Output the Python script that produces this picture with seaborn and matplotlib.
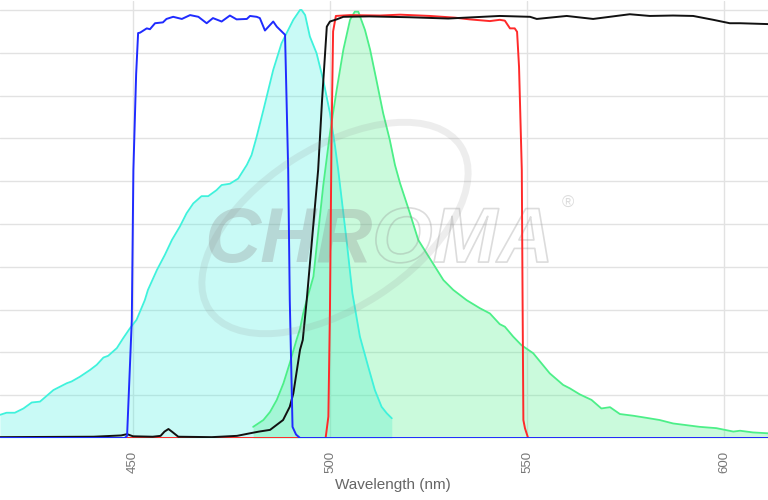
import numpy as np
import matplotlib
matplotlib.use("Agg")
import matplotlib.pyplot as plt
import matplotlib.patheffects as pe
from matplotlib.patches import Ellipse
from matplotlib.transforms import IdentityTransform
import seaborn as sns

# -----------------------
# DATOS
# -----------------------

# filtro de excitacion (azul)
blue_wl = [416.2, 447.9, 448.5, 449.7, 450.1, 450.8, 451.3, 451.8, 453.5, 454.3, 455.6, 457.6,
           458.5, 460.2, 462.4, 464.5, 466.6, 468.7, 470.3, 472.5, 474.6, 476.3, 478.9, 479.7,
           481.4, 482.2, 483.5, 485.6, 486.5, 488.6, 489.4, 489.8, 490.5, 491.4, 492.4, 611.2]
blue_t = [0, 0, 0.5, 27.6, 62.6, 85, 94.6, 94.7, 95.7, 95.5, 96.9, 97.1,
          97.9, 98.4, 97.9, 98.8, 98.4, 96.9, 98.1, 97.3, 98.7, 97.8, 97.9, 98.6,
          98.4, 98.1, 95.2, 97.3, 96.1, 94.2, 62.6, 32.2, 2.6, 0.8, 0, 0]

# filtro de emision (rojo)
red_wl = [416.2, 498.9, 499.6, 500.0, 500.4, 500.8, 501.5, 505.1, 512.7, 517.8, 525.4, 531.7,
          535.5, 540.6, 543.1, 544.4, 545.7, 546.9, 547.5, 548.0, 548.7, 548.9, 549.1, 549.5,
          550.3, 611.2]
red_t = [0, 0, 5, 30, 70, 95, 98.6, 98.8, 98.7, 98.9, 98.6, 98.2,
         97.8, 97.4, 97.7, 97.5, 95.7, 95.7, 94.9, 86.7, 62.6, 32.2, 4.2, 2.3,
         0, 0]

# dicroico (negro)
black_wl = [416.2, 440, 447, 448.5, 450, 455, 457, 458, 459, 460, 461.5, 470,
            476.4, 479.7, 482, 484.8, 488.1, 489.8, 490.7, 492.4, 493.1, 494.1, 497.0, 498.0,
            499.2, 500.0, 501.7, 503.4, 510, 520, 530, 543.1, 550.8, 552.5, 560.1, 566.8,
            576.1, 581.2, 587.1, 592.2, 597.3, 601.5, 604.1, 611.2]
black_t = [0.2, 0.3, 0.6, 0.9, 0.4, 0.3, 0.5, 1.5, 2.1, 1.4, 0.3, 0.2,
           0.5, 1.1, 1.5, 1.9, 4.2, 7.3, 10.4, 20.6, 22.9, 32.2, 62.6, 79.0,
           96.1, 97.3, 97.8, 98.4, 98.5, 98.3, 98.0, 98.6, 98.4, 97.9, 98.6, 97.9,
           99.0, 98.6, 98.7, 98.6, 97.7, 96.9, 96.9, 96.7]

# espectro de excitacion (cian)
cyan_wl = [416.2, 417.9, 420.0, 422.2, 424.3, 426.4, 429.8, 433.2, 434.4, 436.5, 439.1, 440.8,
           442.5, 443.7, 445.9, 447.5, 449.2, 450.9, 453.0, 453.8, 456.1, 458.1, 459.9, 461.9,
           463.6, 465.3, 467.4, 469.1, 471.2, 472.5, 474.6, 476.7, 478.9, 480.1, 481.4, 483.1,
           485.6, 487.7, 489.0, 490.7, 492.4, 492.8, 493.7, 494.9, 496.6, 498.3, 500.0, 501.3,
           502.1, 504.2, 505.7, 507.6, 509.7, 511.4, 513.1, 514.4, 515.7]
cyan_ex = [5.4, 5.9, 5.9, 6.9, 8.3, 8.5, 11.2, 12.8, 13.2, 14.3, 15.9, 17.1,
           18.8, 19.2, 21.0, 23.3, 25.6, 27.6, 32.2, 34.6, 39.3, 42.8, 46.3, 49.4,
           52.5, 54.8, 56.5, 56.5, 57.9, 59.1, 59.4, 60.6, 63.8, 66.1, 70.4, 76.6,
           86.0, 92.2, 94.6, 97.7, 100, 100, 98.8, 93.8, 89.9, 83.6, 75.9, 68.1,
           62.6, 46.3, 33.8, 23.7, 16.7, 11.2, 7.3, 5.8, 4.6]

# espectro de emision (verde)
green_wl = [480.5, 481.8, 483.1, 484.8, 486.5, 488.2, 489.8, 491.5, 492.4, 493.2, 494.1, 495.8,
            498.3, 500.0, 501.7, 503.4, 505.1, 506.3, 507.2, 508.9, 510.2, 511.8, 513.5, 515.2,
            516.5, 517.8, 520.3, 522.4, 524.5, 528.8, 531.3, 534.7, 538.1, 540.6, 543.1, 544.4,
            546.5, 548.6, 551.6, 555.8, 559.2, 560.9, 563.4, 566.4, 568.9, 571.1, 573.6, 577.0,
            580.4, 583.7, 587.1, 590.5, 593.9, 598.1, 602.4, 604.1, 607.4, 611.2]
green_em = [2.6, 3.4, 4.2, 6.1, 8.9, 12.8, 17.5, 22.9, 25.5, 29.1, 32.2, 37.7,
            59.0, 71.2, 81.3, 90.7, 97.7, 99.6, 99.6, 95.3, 90.7, 83.6, 75.9, 69.6,
            63.8, 59.5, 52.5, 46.3, 43.2, 36.9, 34.6, 32.2, 30.3, 29.1, 26.6, 26.0,
            23.7, 21.7, 19.8, 15.1, 12.4, 11.6, 10.2, 8.9, 6.9, 7.2, 5.6, 5.2,
            4.7, 4.2, 3.4, 3.0, 2.6, 2.3, 1.5, 1.7, 1.3, 1.1]

x_ticks = [450, 500, 550, 600]

# -----------------------
# GRAFICO
# -----------------------
sns.set_style("white")
plt.rcParams['font.family'] = ['Liberation Sans', 'DejaVu Sans']

fig = plt.figure(figsize=(7.68, 5), dpi=100)
ax = fig.add_axes([0, 62 / 500, 1, 436.6 / 500])

# rellenos de los espectros
ax.fill_between(cyan_wl, cyan_ex, 0, color='#40f0e0', alpha=0.28, lw=0, zorder=1)
ax.fill_between(green_wl, green_em, 0, color='#50f08c', alpha=0.30, lw=0, zorder=1)
sns.lineplot(x=cyan_wl, y=cyan_ex, ax=ax, color='#3ff2dc', lw=1.3, zorder=2)
sns.lineplot(x=green_wl, y=green_em, ax=ax, color='#4cef88', lw=1.3, zorder=2)

# marca de agua
wm = '#8c8c8c'
ax.text(510.7, 41.1, 'CHR', ha='right', va='baseline', fontsize=56, fontweight='bold',
        style='italic', color=wm, alpha=0.3, zorder=3)
ax.text(510.7, 41.1, 'OMA', ha='left', va='baseline', fontsize=56, fontweight='bold',
        style='italic', color=(1, 1, 1, 0), zorder=3,
        path_effects=[pe.Stroke(linewidth=1.2, foreground=(0.55, 0.55, 0.55, 0.3))])
ax.text(560.5, 54.8, '®', ha='center', va='center', fontsize=12, color=wm, alpha=0.3, zorder=3)
fig.add_artist(Ellipse((335, 272), 300, 160, angle=33, fill=False, lw=5,
                       edgecolor=(0.55, 0.55, 0.55, 0.15), transform=IdentityTransform(),
                       zorder=3))

# filtros
sns.lineplot(x=red_wl, y=red_t, ax=ax, color='#ff2a2a', lw=1.4, zorder=4)
sns.lineplot(x=black_wl, y=black_t, ax=ax, color='#111111', lw=1.4, zorder=5)
sns.lineplot(x=blue_wl, y=blue_t, ax=ax, color='#1f2bff', lw=1.4, zorder=6)

ax.set_xlim(416.24, 611.2)
ax.set_ylim(0, 102)
ax.set_xticks(x_ticks)
ax.set_xticklabels([str(t) for t in x_ticks], rotation=90, color='#777777', fontsize=9.5)
ax.set_yticks(np.arange(0, 101, 10))
ax.set_yticklabels([])
ax.tick_params(axis='x', length=8, color='#e2e2e2', pad=1)
ax.tick_params(axis='y', length=0)
ax.grid(True, color='#e2e2e2', lw=1)
ax.set_axisbelow(True)
for s in ax.spines.values():
    s.set_visible(False)

ax.set_xlabel('Wavelength (nm)', fontsize=11, color='#666666')
ax.xaxis.set_label_coords(393 / 768, -(485 - 438) / 436.6)
ax.xaxis.label.set_va('center')

fig.savefig('out.png', dpi=100)
